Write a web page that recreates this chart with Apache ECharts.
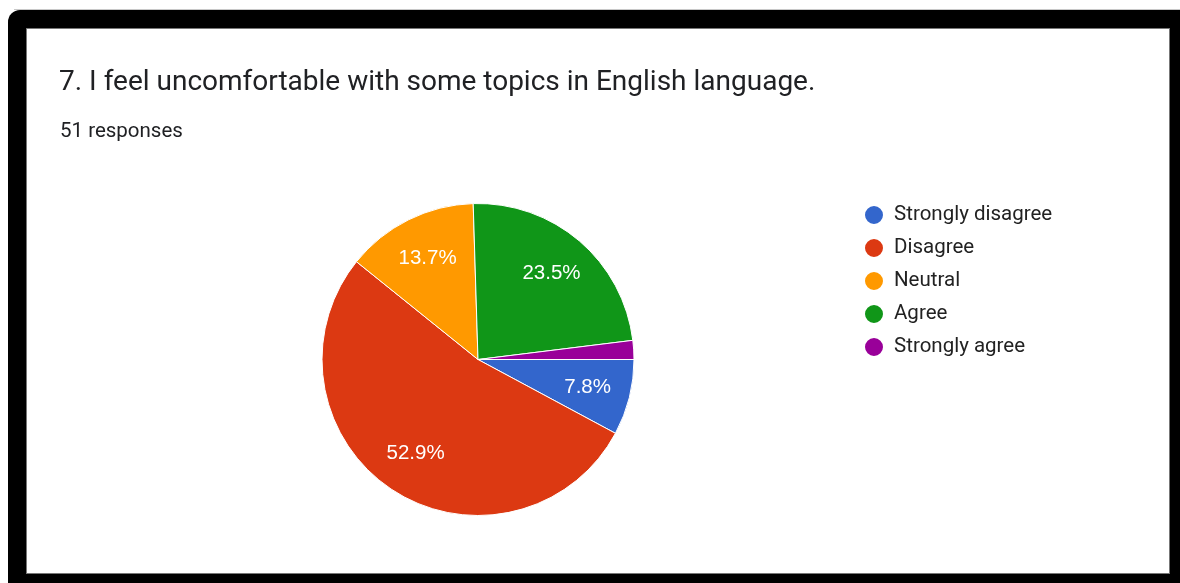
<!DOCTYPE html>
<html>
<head>
<meta charset="utf-8">
<script src="https://cdn.jsdelivr.net/npm/echarts@6/dist/echarts.min.js"></script>
<style>
  html, body { margin: 0; padding: 0; background: #fff; }
  #wrap { position: relative; width: 1180px; height: 583px; overflow: hidden; }
  #topline { position: absolute; left: 14px; top: 9px; width: 1166px; height: 1px; background: #c8c8c8; }
  #frame { position: absolute; left: 8px; top: 10px; width: 1172px; height: 573px; background: #000; border-top-left-radius: 12px; }
  #panel { position: absolute; left: 26px; top: 28px; width: 1142px; height: 544px; background: #fff; border: 1px solid #777; }
  #chart { position: absolute; left: 0; top: 0; width: 1180px; height: 583px; }
</style>
</head>
<body>
<div id="wrap">
  <div id="topline"></div>
  <div id="frame"></div>
  <div id="panel"></div>
  <div id="chart"></div>
</div>
<script>
// Survey question 7 – answer counts out of 51 responses
const questionTitle = '7. I feel uncomfortable with some topics in English language.';
const responseNote = '51 responses';
const categories = ['Strongly disagree', 'Disagree', 'Neutral', 'Agree', 'Strongly agree'];
const counts = [4, 27, 7, 12, 1];
const colors = ['#3366cc', '#dc3912', '#ff9900', '#109618', '#990099'];

const total = counts.reduce((a, b) => a + b, 0);
const sliceData = categories.map((name, i) => ({ name, value: counts[i] }));

const chart = echarts.init(document.getElementById('chart'), null, { renderer: 'canvas' });

const pieCenter = [478, 359.5];
const pieRadius = 156;

chart.setOption({
  backgroundColor: 'transparent',
  color: colors,
  animation: false,
  title: [
    {
      text: questionTitle,
      left: 59,
      top: 69,
      padding: 0,
      textStyle: { fontFamily: 'Roboto', fontSize: 28, fontWeight: 'normal', color: '#202124' }
    },
    {
      text: responseNote,
      left: 60,
      top: 121,
      padding: 0,
      textStyle: { fontFamily: 'Roboto', fontSize: 20.5, fontWeight: 'normal', color: '#202124' }
    }
  ],
  legend: {
    orient: 'vertical',
    left: 863,
    top: 204,
    padding: 0,
    icon: 'circle',
    itemWidth: 20,
    itemHeight: 20,
    itemGap: 11,
    selectedMode: false,
    data: categories,
    textStyle: { fontFamily: 'Roboto', fontSize: 20.5, color: '#222', padding: [0, 0, 0, 5] }
  },
  series: [
    {
      // filled slices
      type: 'pie',
      center: pieCenter,
      radius: pieRadius,
      startAngle: 0,
      clockwise: true,
      silent: true,
      label: { show: false },
      labelLine: { show: false },
      itemStyle: { borderColor: '#fff', borderWidth: 1 },
      data: sliceData
    },
    {
      // transparent ring carrying the percentage labels at ~70% of the radius
      type: 'pie',
      center: pieCenter,
      radius: [64, pieRadius],
      startAngle: 0,
      clockwise: true,
      silent: true,
      z: 3,
      itemStyle: { color: 'rgba(0,0,0,0)', borderWidth: 0 },
      label: {
        show: true,
        position: 'inside',
        fontFamily: 'Arial, "Liberation Sans"',
        fontSize: 20.5,
        color: '#fff',
        formatter: p => (p.value / total < 0.05 ? '' : (p.value / total * 100).toFixed(1) + '%')
      },
      labelLine: { show: false },
      data: sliceData
    }
  ]
});
</script>
</body>
</html>
